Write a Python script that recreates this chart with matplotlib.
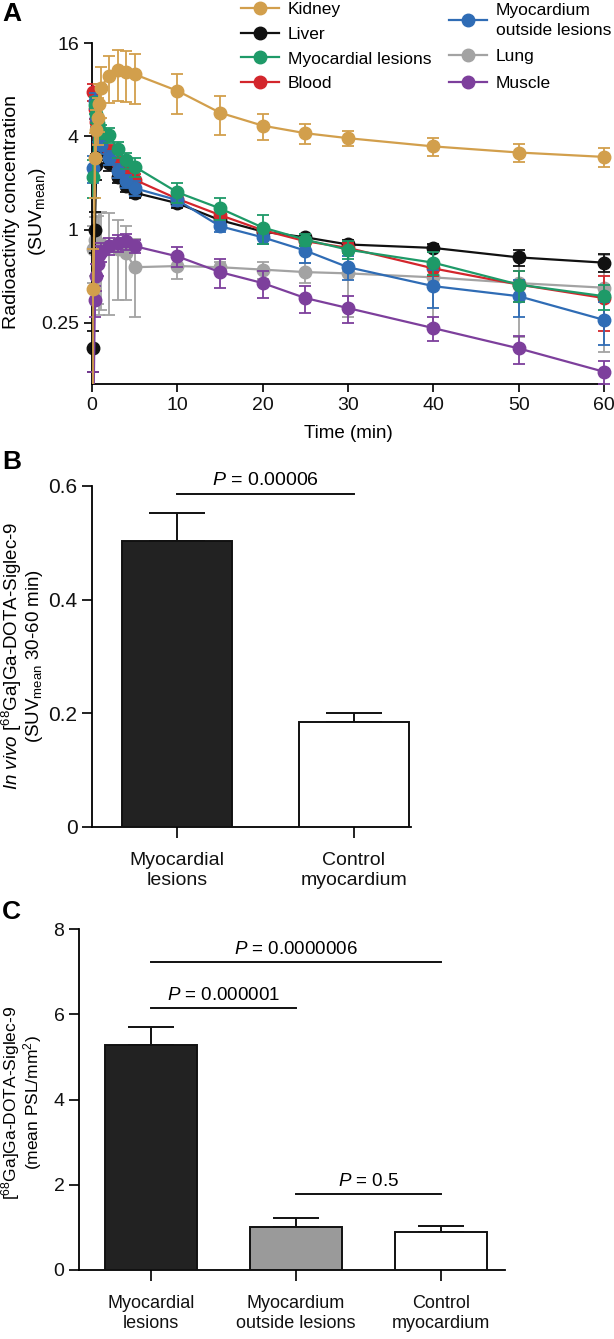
import numpy as np
import matplotlib
matplotlib.use("Agg")
import matplotlib.pyplot as plt
from matplotlib.ticker import NullLocator

plt.rcParams['font.family'] = ['Liberation Sans', 'DejaVu Sans']
plt.rcParams['mathtext.fontset'] = 'custom'
plt.rcParams['mathtext.rm'] = 'Liberation Sans'
plt.rcParams['mathtext.it'] = 'Liberation Sans:italic'
plt.rcParams['mathtext.bf'] = 'Liberation Sans:bold'

# ---------------------------------------------------------------------------
# Panel A: time-activity curves (SUVmean), mean and SD
# ---------------------------------------------------------------------------
times = [0.17, 0.33, 0.5, 0.67, 0.83, 1, 2, 3, 4, 5, 10, 15, 20, 25, 30, 40, 50, 60]

kidney = [0.41, 2.9, 4.4, 5.3, 6.5, 8.3, 9.9, 10.7, 10.5, 10.1, 7.9, 5.7, 4.7, 4.2, 3.9, 3.45, 3.15, 2.95]
kidney_sd = [0.34, 1.3, 1.5, 1.8, 2.2, 3.0, 3.3, 3.9, 3.8, 3.6, 2.3, 1.6, 0.9, 0.65, 0.45, 0.45, 0.4, 0.42]

liver = [0.17, 1.0, 2.6, 3.3, 3.6, 3.2, 2.7, 2.2, 1.9, 1.73, 1.48, 1.15, 0.97, 0.89, 0.8, 0.76, 0.66, 0.61]
liver_sd = [0.05, 0.3, 0.5, 0.5, 0.5, 0.4, 0.3, 0.2, 0.15, 0.12, 0.1, 0.08, 0.07, 0.05, 0.06, 0.05, 0.08, 0.08]

lesions = [2.2, 6.4, 5.6, 4.9, 4.5, 4.3, 4.1, 3.3, 2.8, 2.55, 1.74, 1.37, 1.03, 0.86, 0.74, 0.61, 0.44, 0.37]
lesions_sd = [0.6, 0.8, 0.7, 0.6, 0.5, 0.45, 0.45, 0.4, 0.35, 0.35, 0.25, 0.22, 0.22, 0.08, 0.1, 0.1, 0.1, 0.07]

blood = [7.8, 6.0, 5.0, 4.2, 3.9, 3.7, 3.2, 2.7, 2.35, 2.1, 1.58, 1.24, 0.99, 0.84, 0.76, 0.56, 0.44, 0.36]
blood_sd = [1.0, 0.8, 0.7, 0.6, 0.5, 0.4, 0.3, 0.25, 0.2, 0.2, 0.15, 0.1, 0.08, 0.06, 0.06, 0.06, 0.1, 0.14]

outside = [2.5, 6.8, 5.3, 4.3, 3.8, 3.5, 2.9, 2.4, 2.05, 1.85, 1.55, 1.05, 0.89, 0.73, 0.57, 0.43, 0.37, 0.26]
outside_sd = [0.5, 0.8, 0.7, 0.6, 0.5, 0.4, 0.3, 0.25, 0.2, 0.2, 0.12, 0.08, 0.09, 0.12, 0.1, 0.12, 0.1, 0.08]

lung = [0.75, 0.85, 0.8, 0.78, 0.78, 0.8, 0.78, 0.75, 0.7, 0.57, 0.58, 0.57, 0.55, 0.53, 0.52, 0.49, 0.45, 0.42]
lung_sd = [0.3, 0.35, 0.4, 0.45, 0.5, 0.5, 0.5, 0.4, 0.35, 0.3, 0.1, 0.05, 0.07, 0.08, 0.25, 0.25, 0.25, 0.26]

muscle = [0.07, 0.35, 0.5, 0.6, 0.68, 0.72, 0.78, 0.82, 0.84, 0.78, 0.67, 0.53, 0.45, 0.36, 0.31, 0.23, 0.17, 0.12]
muscle_sd = [0.05, 0.08, 0.1, 0.1, 0.1, 0.1, 0.1, 0.1, 0.1, 0.08, 0.1, 0.11, 0.09, 0.07, 0.06, 0.04, 0.035, 0.02]

# ---------------------------------------------------------------------------
# Panel B: in vivo SUVmean 30-60 min
# ---------------------------------------------------------------------------
b_labels = ["Myocardial\nlesions", "Control\nmyocardium"]
b_values = [0.504, 0.184]
b_sd = [0.048, 0.017]
b_p_text = "0.00006"

# ---------------------------------------------------------------------------
# Panel C: ex vivo autoradiography
# ---------------------------------------------------------------------------
c_labels = ["Myocardial\nlesions", "Myocardium\noutside lesions", "Control\nmyocardium"]
c_values = [5.27, 1.0, 0.90]
c_sd = [0.44, 0.21, 0.13]
c_pairs = [(0, 2, 7.23, "0.0000006"), (0, 1, 6.15, "0.000001"), (1, 2, 1.78, "0.5")]

W, H = 614, 1339
fig = plt.figure(figsize=(W / 100, H / 100), dpi=100)


def px_rect(left, top, right, bottom):
    return [left / W, 1 - bottom / H, (right - left) / W, (bottom - top) / H]


def style_axes(ax, lw=1.3):
    ax.spines['top'].set_visible(False)
    ax.spines['right'].set_visible(False)
    for s in ('left', 'bottom'):
        ax.spines[s].set_linewidth(lw)
    ax.tick_params(direction='out', length=6, width=lw, colors='#111111')


def vtext(x, y, s, size):
    # one rotated line of an axis title, placed in pixels
    fig.text(x / W, 1 - y / H, s, rotation=90, ha='center', va='center', fontsize=size)


# ---- Panel A ----
axA = fig.add_axes(px_rect(81.8, 39.4, 611.7, 384))
style_axes(axA)
axA.set_yscale('log')
axA.set_xlim(-1.2, 60.9)
axA.set_ylim(0.1, 17)
axA.spines['left'].set_position(('data', 0))
axA.spines['left'].set_bounds(0.1, 16)
axA.spines['bottom'].set_bounds(0, 60)
axA.set_yticks([0.25, 1, 4, 16])
axA.set_yticklabels(['0.25', '1', '4', '16'])
axA.yaxis.set_minor_locator(NullLocator())
axA.set_xticks([0, 10, 20, 30, 40, 50, 60])
axA.tick_params(labelsize=14)
axA.tick_params(axis='x', pad=3)

series = [
    ("Kidney", kidney, kidney_sd, "#D29F4C", 8),
    ("Liver", liver, liver_sd, "#111111", 2),
    ("Myocardial lesions", lesions, lesions_sd, "#1E9A68", 5),
    ("Blood", blood, blood_sd, "#D3262C", 3),
    ("Myocardium\noutside lesions", outside, outside_sd, "#2F6CB5", 4),
    ("Lung", lung, lung_sd, "#A3A3A3", 1),
    ("Muscle", muscle, muscle_sd, "#7D3F9C", 6),
]
handles = []
for name, vals, sd, col, z in series:
    vals = np.array(vals)
    sd = np.array(sd)
    lower = np.minimum(sd, vals * 0.95)
    h = axA.errorbar(times, vals, yerr=[lower, sd], fmt='-o', color=col, ms=9,
                     lw=1.6, elinewidth=1.3, capsize=4.5, capthick=1.3,
                     label=name, zorder=z)
    handles.append(h[0])

leg_kw = dict(loc='upper left', bbox_transform=fig.transFigure, frameon=False,
              fontsize=12.5, handlelength=2.2, handletextpad=0.5,
              borderpad=0, borderaxespad=0)
names = [s[0] for s in series]
leg1 = axA.legend(handles=handles[:4], labels=names[:4],
                  bbox_to_anchor=(241 / W, 1 - 2 / H), labelspacing=0.55, **leg_kw)
axA.add_artist(leg1)
leg2 = axA.legend(handles=handles[4:], labels=names[4:],
                  bbox_to_anchor=(449 / W, 1 - 3 / H), labelspacing=0.65, **leg_kw)
leg2.get_texts()[0].set_linespacing(1.4)

vtext(12, 212, "Radioactivity concentration", 14)
vtext(38, 212, "(SUV$_{\\mathrm{mean}}$)", 14)
fig.text(348 / W, 1 - 434 / H, "Time (min)", ha='center', va='center', fontsize=13.5)
fig.text(2 / W, 1 - 2 / H, "A", ha='left', va='top', fontsize=19, fontweight='bold')

# ---- Panel B ----
axB = fig.add_axes(px_rect(92, 486, 410.6, 827))
style_axes(axB)
xb = np.arange(len(b_values))
axB.bar(xb, b_values, width=0.62, color=['#222222', 'white'], edgecolor='#111111',
        linewidth=1.4, zorder=3)
axB.errorbar(xb, b_values, yerr=[np.zeros(len(b_sd)), b_sd], fmt='none', ecolor='#111111',
             elinewidth=1.4, capsize=20, capthick=1.4, zorder=2)
axB.set_xlim(-0.48, 1.32)
axB.set_ylim(0, 0.6)
axB.set_yticks([0, 0.2, 0.4, 0.6])
axB.set_yticklabels(['0', '0.2', '0.4', '0.6'])
axB.set_xticks(xb)
axB.set_xticklabels(b_labels)
axB.tick_params(axis='x', length=8, pad=10, labelsize=14)
axB.tick_params(axis='y', length=7, labelsize=15)
axB.plot([0, 1], [0.586, 0.586], color='#111111', lw=1.4, clip_on=False)
axB.text(0.5, 0.594, "$\\it{P}$ = " + b_p_text, ha='center', va='bottom', fontsize=14)
vtext(12, 656, "$\\it{In\\ vivo}$ [$^{68}$Ga]Ga-DOTA-Siglec-9", 13.5)
vtext(35, 656, "(SUV$_{\\mathrm{mean}}$ 30-60 min)", 13.5)
fig.text(2 / W, 1 - 450 / H, "B", ha='left', va='top', fontsize=19, fontweight='bold')

# ---- Panel C ----
axC = fig.add_axes(px_rect(79, 929, 505, 1270))
style_axes(axC)
xc = np.arange(len(c_values))
axC.bar(xc, c_values, width=0.634, color=['#222222', '#9A9A9A', 'white'], edgecolor='#111111',
        linewidth=1.4, zorder=3)
axC.errorbar(xc, c_values, yerr=[np.zeros(len(c_sd)), c_sd], fmt='none', ecolor='#111111',
             elinewidth=1.4, capsize=16.5, capthick=1.4, zorder=2)
axC.set_xlim(-0.497, 2.441)
axC.set_ylim(0, 8)
axC.set_yticks([0, 2, 4, 6, 8])
axC.set_xticks(xc)
axC.set_xticklabels(c_labels)
axC.tick_params(axis='x', length=8, pad=10, labelsize=13)
axC.tick_params(axis='y', length=7, labelsize=14)
for a, b, y, p in c_pairs:
    axC.plot([a, b], [y, y], color='#111111', lw=1.4, clip_on=False)
    axC.text((a + b) / 2, y + 0.1, "$\\it{P}$ = " + p, ha='center', va='bottom', fontsize=13.5)
vtext(11, 1103, "[$^{68}$Ga]Ga-DOTA-Siglec-9", 12.5)
vtext(33, 1103, "(mean PSL/mm$^{2}$)", 12.5)
fig.text(2 / W, 1 - 900 / H, "C", ha='left', va='top', fontsize=19, fontweight='bold')

fig.savefig("out.png", dpi=100)
